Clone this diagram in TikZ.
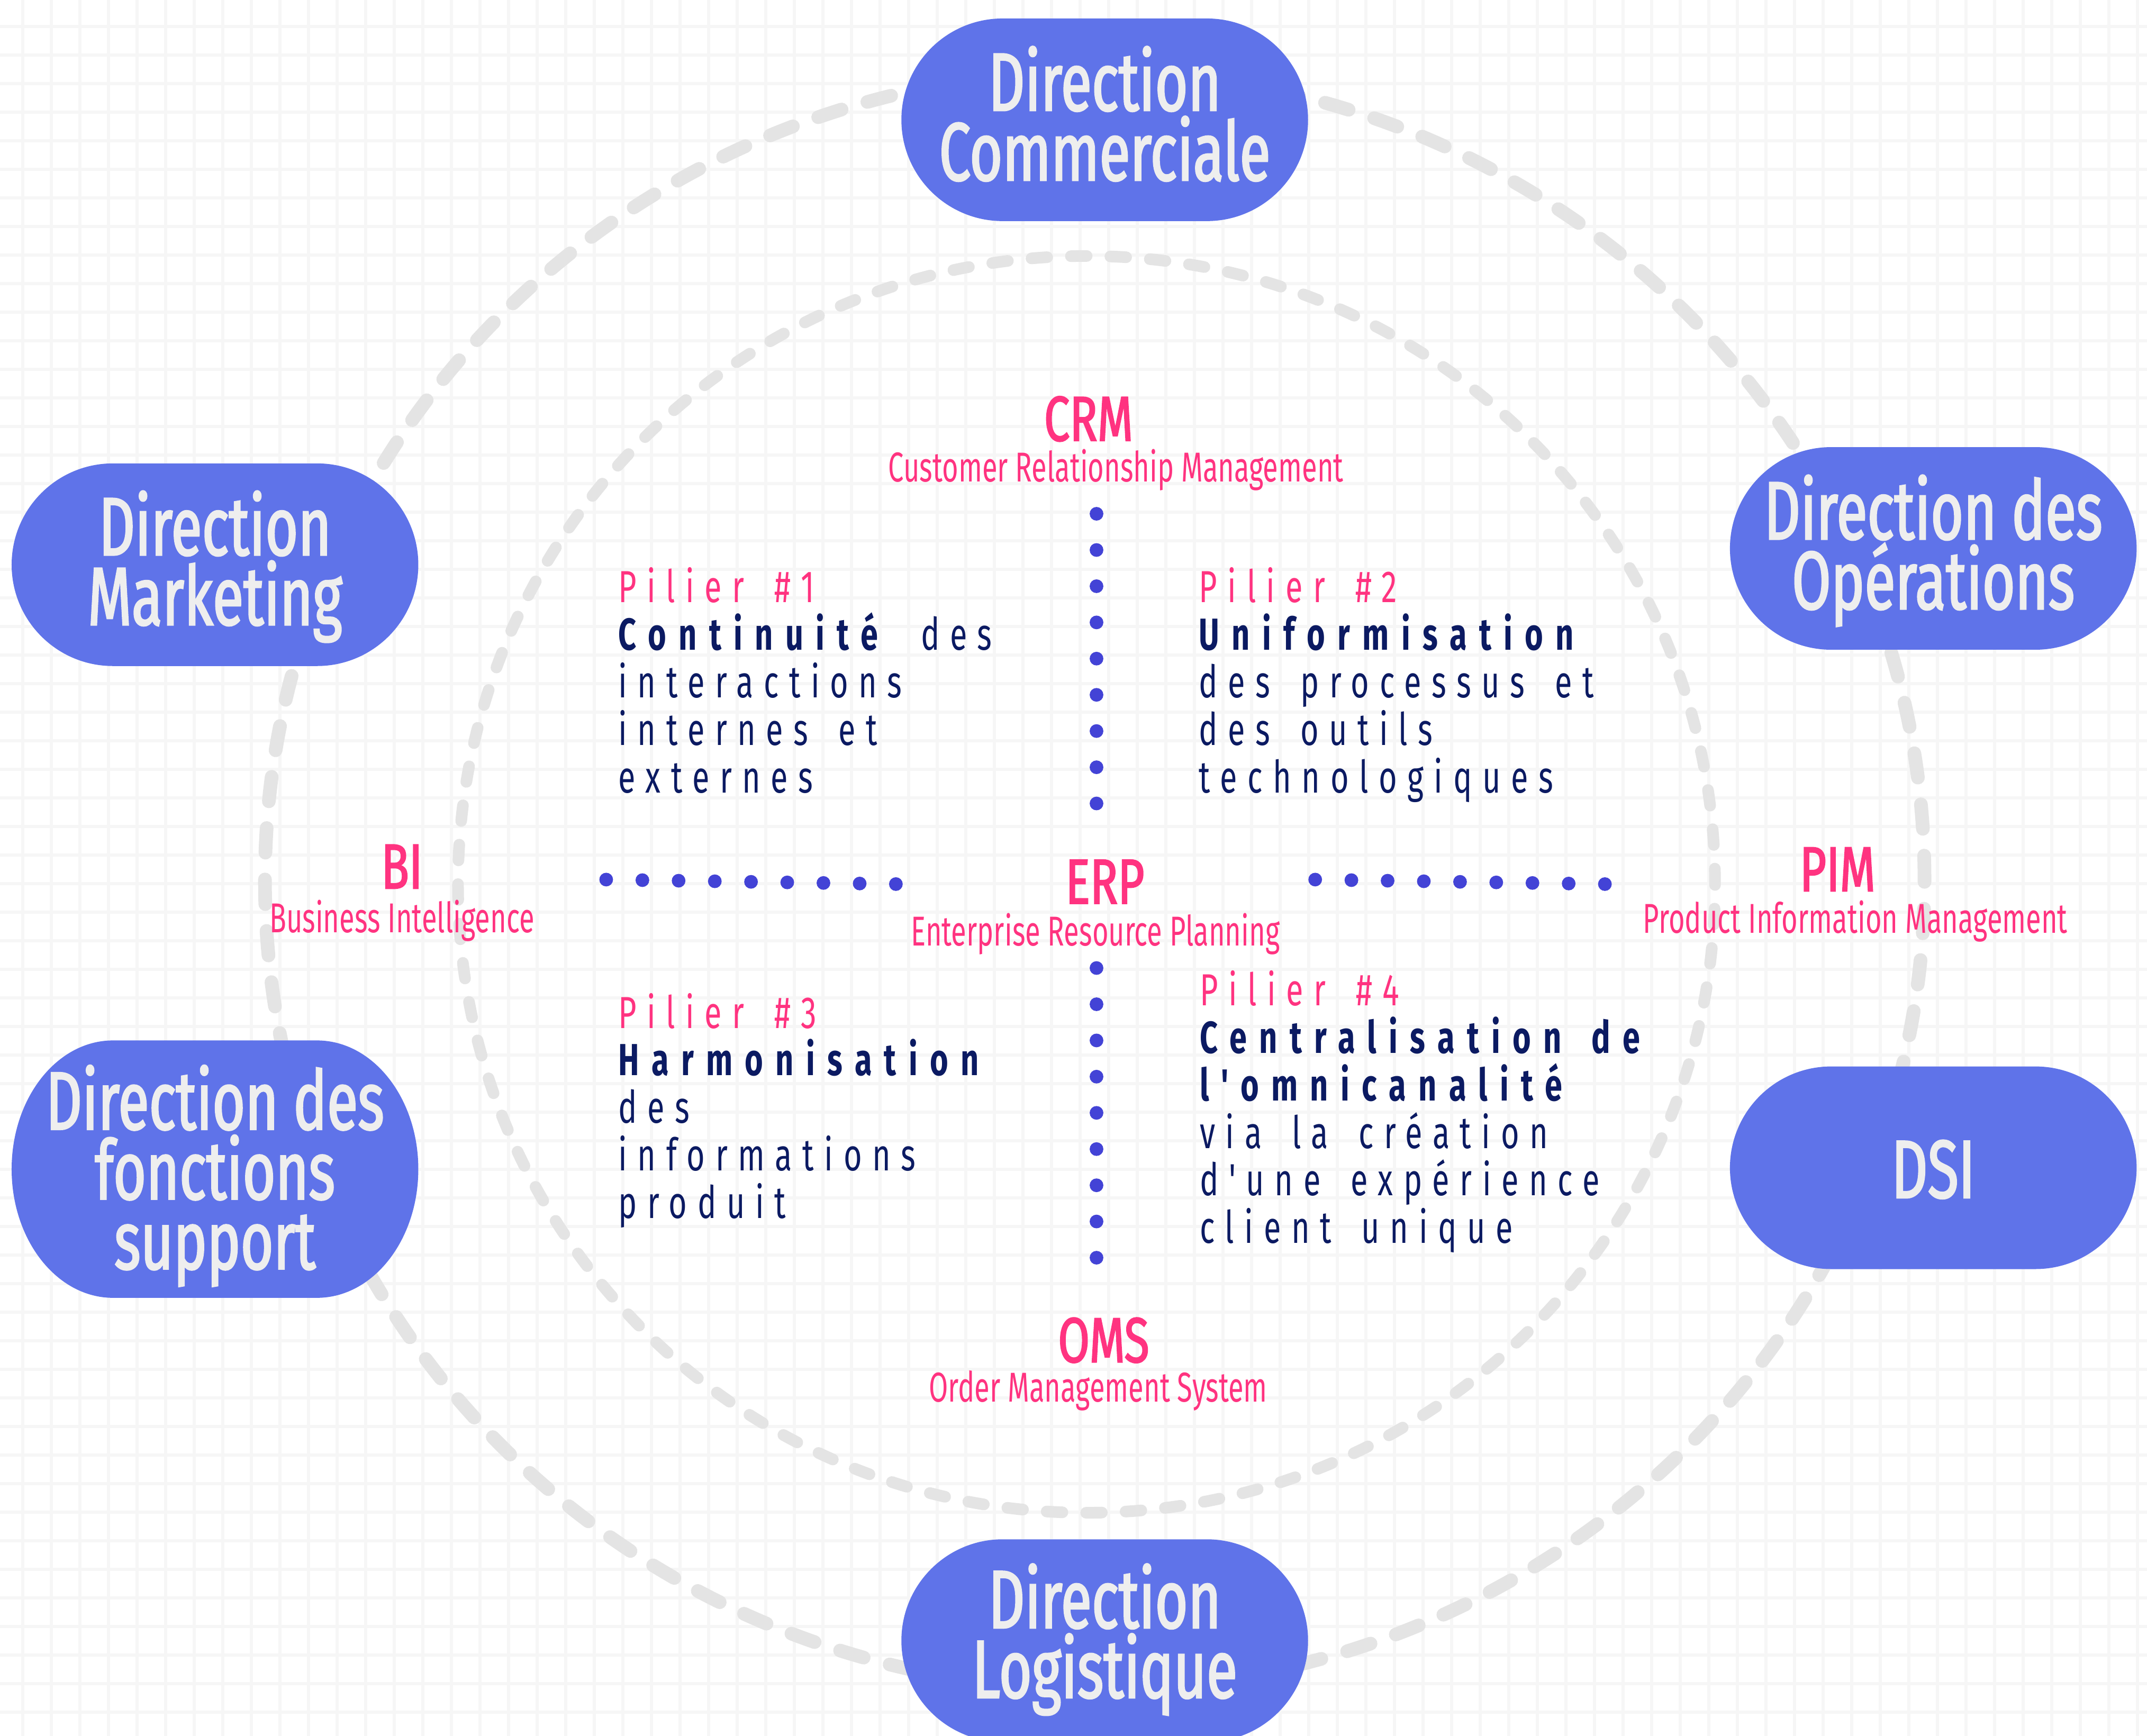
\documentclass[tikz,border=0pt]{standalone}
\usepackage{fontspec}
\setmainfont{Fira Sans}
\newfontfamily\condf[FakeStretch=0.665]{Fira Sans}
\newfontfamily\condb[FakeStretch=0.685,FakeBold=1.8]{Fira Sans}
\newfontfamily\condm[FakeStretch=0.72,FakeBold=1.8]{Fira Sans}
\newfontfamily\pilf[FakeStretch=0.7,LetterSpace=23,BoldFeatures={LetterSpace=27.5}]{Fira Sans}
\definecolor{pillc}{HTML}{5F73E9}
\definecolor{pilltxt}{HTML}{EEEEEE}
\definecolor{pinkc}{HTML}{FF3380}
\definecolor{dotc}{HTML}{4343D6}
\definecolor{navyc}{HTML}{0B1A62}
\definecolor{dashc}{HTML}{E4E4E4}
\definecolor{gridc}{HTML}{F6F6F6}
\newcommand\cblock[1]{\vtop{\lineskiplimit=-1000pt\lineskip=0pt\halign{\hfil##\hfil\cr#1\crcr}}}
\newcommand\lblock[1]{\vtop{\lineskiplimit=-1000pt\lineskip=0pt\spaceskip=22pt\relax\halign{##\hfil\cr#1\crcr}}}
\newcommand\pillbg[2]{%
  \fill[pillc] ([shift={(-74.5pt,#2)}]#1.center) -- ([shift={(74.5pt,#2)}]#1.center)
    arc[start angle=90,end angle=-90,x radius=74pt,y radius=#2]
    -- ([shift={(-74.5pt,-#2)}]#1.center)
    arc[start angle=270,end angle=90,x radius=74pt,y radius=#2] -- cycle;}
\tikzset{
  pillbox/.style={shape=rectangle,minimum width=297pt,minimum height=148pt,inner sep=0pt},
  pilltext/.style={font=\condb\fontsize{60.2}{51}\selectfont,text=pilltxt,anchor=base,inner sep=0pt},
  biglab/.style={font=\condm\fontsize{46.4}{46}\selectfont,text=pinkc,anchor=base,inner sep=0pt},
  sublab/.style={font=\condf\fontsize{30.5}{30}\selectfont,text=pinkc,anchor=base,inner sep=0pt},
  pilier/.style={font=\pilf\fontsize{32.8}{34.7}\selectfont,text=navyc,anchor=base west,inner sep=0pt},
  gridline/.style={gridc,line width=2.2pt},
  outerring/.style={dashc,line width=10pt,line cap=round,dash pattern=on 18pt off 19.6pt},
  innerring/.style={dashc,line width=8.5pt,line cap=round,dash pattern=on 11.5pt off 17.34pt},
  dotline/.style={dotc,line width=10pt,line cap=round,dash pattern=on 0pt off 26.45pt}
}
\begin{document}
\begin{tikzpicture}[x=1pt,y=-1pt]
\useasboundingbox (0,0) rectangle (1568,1268);
\fill[white] (0,0) rectangle (1568,1268);
% grid
\foreach \i in {0,...,75} {\draw[gridline] (16.6+\i*20.87,0) -- (16.6+\i*20.87,1268);}
\foreach \j in {0,...,60} {\draw[gridline] (0,19.3+\j*20.87) -- (1568,19.3+\j*20.87);}
% rings
\coordinate (oc) at (799.5,643);
\coordinate (ic) at (793.5,646);
\draw[outerring] (oc) ellipse [x radius=606pt, y radius=591pt];
\draw[innerring] (ic) ellipse [x radius=459pt, y radius=459pt];
% dotted axes
\coordinate (vt1) at (800.8,375.3);
\coordinate (vt2) at (800.8,587.2);
\coordinate (vb1) at (800.8,707.1);
\coordinate (vb2) at (800.8,919.0);
\coordinate (hl1) at (442.7,642.5);
\coordinate (hl2) at (655.2,645.8);
\coordinate (hr1) at (960.5,642.5);
\coordinate (hr2) at (1172.6,645.8);
\draw[dotline] (vt1) -- (vt2);
\draw[dotline] (vb1) -- (vb2);
\draw[dotline] (hl1) -- (hl2);
\draw[dotline] (hr1) -- (hr2);
% pills
\node[pillbox] (dc) at (806.8,87.5) {};
\node[pillbox] (dm) at (157,412.5) {};
\node[pillbox] (dop) at (1411.9,400.6) {};
\node[pillbox,minimum height=188pt] (dfs) at (157,854) {};
\node[pillbox] (dsi) at (1411.9,853) {};
\node[pillbox] (dl) at (806.8,1198.4) {};
\pillbg{dc}{74pt}
\pillbg{dm}{74pt}
\pillbg{dop}{74pt}
\pillbg{dfs}{94pt}
\pillbg{dsi}{74pt}
\pillbg{dl}{74pt}
\node[pilltext] (dct) at (806.8,80.8) {\cblock{Direction\cr Commerciale}};
\node[pilltext] (dmt) at (157,405.5) {\cblock{Direction\cr Marketing}};
\node[pilltext] (dopt) at (1411.9,393.9) {\cblock{Direction des\cr Opérations}};
\node[pilltext] (dfst) at (157,825) {\cblock{Direction des\cr fonctions\cr support}};
\node[pilltext] (dsit) at (1411.9,875) {DSI};
\node[pilltext] (dlt) at (806.8,1189.2) {\cblock{Direction\cr Logistique}};
% system labels
\node[biglab] (crm) at (795,322) {CRM};
\node[sublab] (crms) at (815,352) {Customer Relationship Management};
\node[biglab] (erp) at (807,660) {ERP};
\node[sublab] (erps) at (800,691) {Enterprise Resource Planning};
\node[biglab] (bi) at (293.5,649) {BI};
\node[sublab] (bis) at (293.5,681) {Business Intelligence};
\node[biglab] (pim) at (1342,651) {PIM};
\node[sublab] (pims) at (1355,681.5) {Product Information Management};
\node[biglab] (oms) at (806,995) {OMS};
\node[sublab] (omss) at (802,1024) {Order Management System};
% piliers
\node[pilier] (p1) at (451.4,440.2) {\lblock{{\color{pinkc}Pilier \#1}\cr \textbf{Continuité} des\cr interactions\cr internes et\cr externes}};
\node[pilier] (p2) at (875.5,440.2) {\lblock{{\color{pinkc}Pilier \#2}\cr \textbf{Uniformisation}\cr des processus et\cr des outils\cr technologiques}};
\node[pilier] (p3) at (451.4,751) {\lblock{{\color{pinkc}Pilier \#3}\cr \textbf{Harmonisation}\cr des\cr informations\cr produit}};
\node[pilier] (p4) at (876,734.6) {\lblock{{\color{pinkc}Pilier \#4}\cr \textbf{Centralisation de}\cr \textbf{l'omnicanalité}\cr via la création\cr d'une expérience\cr client unique}};
\end{tikzpicture}
\end{document}
